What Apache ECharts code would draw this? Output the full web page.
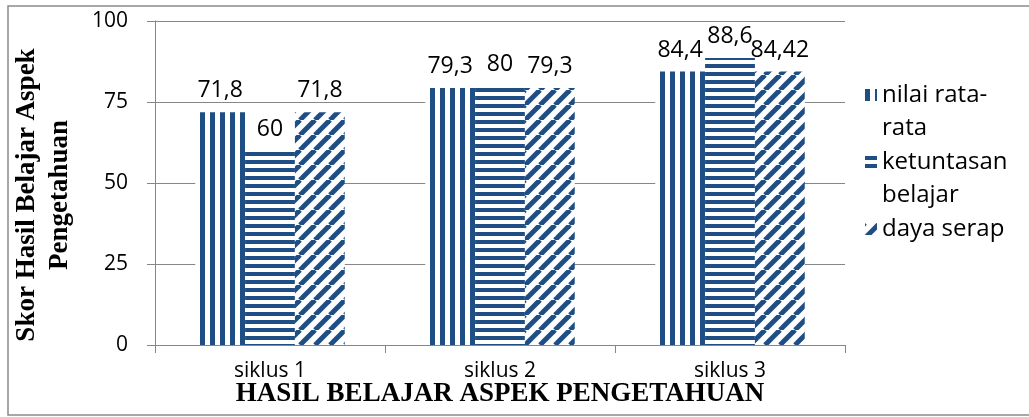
<!DOCTYPE html>
<html>
<head>
<meta charset="utf-8">
<script src="https://cdn.jsdelivr.net/npm/echarts@6/dist/echarts.min.js"></script>
<style>
  html, body { margin: 0; padding: 0; background: #ffffff; }
  #chart { width: 1029px; height: 417px; }
</style>
</head>
<body>
<div id="chart"></div>
<script>
// Scores per learning cycle
const categories = ['siklus 1', 'siklus 2', 'siklus 3'];
const seriesNames = ['nilai rata-\nrata', 'ketuntasan\nbelajar', 'daya serap'];
const nilaiRataRata = [71.8, 79.3, 84.4];
const ketuntasanBelajar = [60, 80, 88.6];
const dayaSerap = [71.8, 79.3, 84.42];
const yTickValues = [0, 25, 50, 75, 100];

const INK = '#1F4E85';
const GRID_GREY = '#878787';

// Striped fills: vertical, horizontal and diagonal hatching
function stripes(kind) {
  const c = document.createElement('canvas');
  const ctx = c.getContext('2d');
  if (kind === 'v') {
    c.width = 10; c.height = 10;
    ctx.fillStyle = '#ffffff'; ctx.fillRect(0, 0, 10, 10);
    ctx.fillStyle = INK; ctx.fillRect(0, 0, 5, 10);
  } else if (kind === 'h') {
    c.width = 8; c.height = 8;
    ctx.fillStyle = '#ffffff'; ctx.fillRect(0, 0, 8, 8);
    ctx.fillStyle = INK; ctx.fillRect(0, 0, 8, 4);
  } else {
    const s = 15;
    c.width = s; c.height = s;
    ctx.fillStyle = '#ffffff'; ctx.fillRect(0, 0, s, s);
    ctx.strokeStyle = INK; ctx.lineWidth = 5;
    [-s, 0, s].forEach(function (off) {
      ctx.beginPath();
      ctx.moveTo(off, s);
      ctx.lineTo(off + s, 0);
      ctx.stroke();
    });
  }
  return { image: c, repeat: 'repeat' };
}

const fills = [stripes('v'), stripes('h'), stripes('d')];
const seriesValues = [nilaiRataRata, ketuntasanBelajar, dayaSerap];

const chart = echarts.init(document.getElementById('chart'), null, { renderer: 'canvas' });

const series = seriesValues.map(function (vals, i) {
  return {
    name: seriesNames[i],
    type: 'bar',
    data: vals,
    barGap: '0%',
    barCategoryGap: '35%',
    itemStyle: { color: fills[i] },
    label: {
      show: true,
      position: 'top',
      distance: 10,
      color: '#000000',
      fontFamily: 'Open Sans',
      fontSize: 23,
      formatter: function (p) { return String(p.value).replace('.', ','); }
    }
  };
});

// Legend entries keep the marker beside their first line of text:
// each entry is laid out as three lines with the marker on the middle one.
function legendText(name) {
  const lines = name.split('\n');
  return lines.length > 1 ? '\n' + name : '\n' + name + '\n';
}

chart.setOption({
  animation: false,
  backgroundColor: '#ffffff',
  grid: { left: 155, right: 184, top: 21, bottom: 72, containLabel: false, outerBoundsMode: 'none' },
  legend: {
    orient: 'vertical',
    left: 865,
    top: 45.5,
    padding: 0,
    itemGap: -32,
    itemWidth: 12,
    itemHeight: 12,
    icon: 'rect',
    formatter: legendText,
    textStyle: { fontFamily: 'Open Sans', fontSize: 24, lineHeight: 33, color: '#000000' },
    data: seriesNames
  },
  xAxis: {
    type: 'category',
    data: categories,
    name: 'HASIL BELAJAR ASPEK PENGETAHUAN',
    nameLocation: 'middle',
    nameGap: 36,
    nameMoveOverlap: false,
    nameTextStyle: { fontFamily: 'Liberation Serif', fontWeight: 'bold', fontSize: 27, color: '#000000' },
    axisLine: { lineStyle: { color: GRID_GREY, width: 1 } },
    axisTick: { show: true, length: 8, lineStyle: { color: GRID_GREY } },
    axisLabel: { fontFamily: 'Open Sans', fontSize: 21, color: '#000000', margin: 16 }
  },
  yAxis: {
    type: 'value',
    min: yTickValues[0],
    max: yTickValues[yTickValues.length - 1],
    interval: yTickValues[1] - yTickValues[0],
    name: 'Skor Hasil Belajar Aspek\nPengetahuan',
    nameLocation: 'middle',
    nameRotate: 90,
    nameGap: 78,
    nameMoveOverlap: false,
    nameTextStyle: {
      fontFamily: 'Liberation Serif', fontWeight: 'bold', fontSize: 27, lineHeight: 33,
      color: '#000000', padding: [0, 24, 0, 0]
    },
    axisLine: { show: true, lineStyle: { color: GRID_GREY, width: 1 } },
    axisTick: { show: true, length: 8, lineStyle: { color: GRID_GREY } },
    splitLine: { show: true, lineStyle: { color: GRID_GREY, width: 1 } },
    axisLabel: { fontFamily: 'Open Sans', fontSize: 21, color: '#000000', margin: 27 }
  },
  graphic: [{
    type: 'rect',
    silent: true,
    z: -1,
    shape: { x: 8, y: 6, width: 1030, height: 409 },
    style: { fill: 'none', stroke: '#8a8a8a', lineWidth: 1.5 }
  }],
  series: series
});
</script>
</body>
</html>
